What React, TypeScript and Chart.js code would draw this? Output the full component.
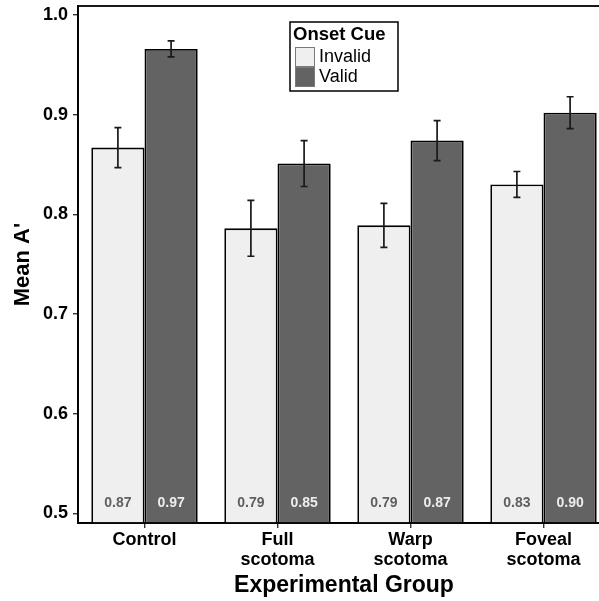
import React, { useEffect, useRef } from "react";
import { Chart, registerables } from "chart.js";

Chart.register(...registerables);

// Experimental groups (multi-line tick labels)
const groups: string[][] = [["Control"], ["Full", "scotoma"], ["Warp", "scotoma"], ["Foveal", "scotoma"]];

// Mean A' per onset cue
const invalidMeans = [0.867, 0.786, 0.789, 0.83];
const validMeans = [0.966, 0.851, 0.874, 0.902];

// Standard errors
const invalidErrors = [0.02, 0.028, 0.022, 0.013];
const validErrors = [0.008, 0.023, 0.02, 0.016];

// Y axis ticks and range
const yTickValues = [0.5, 0.6, 0.7, 0.8, 0.9, 1.0];
const yMin = 0.4905;
const yMax = 1.009;

const seriesNames = ["Invalid", "Valid"];
const fills = ["#efefef", "#636363"];
const labelColors = ["#5f5f5f", "#ededed"];
const errors = [invalidErrors, validErrors];

const FONT = "'Liberation Sans', Arial, Helvetica, sans-serif";

const errorBarsAndLabels = {
  id: "errorBarsAndLabels",
  afterDatasetsDraw(chart: any) {
    const { ctx, scales } = chart;
    const y = scales.y;
    ctx.save();
    chart.data.datasets.forEach((ds: any, di: number) => {
      const meta = chart.getDatasetMeta(di);
      meta.data.forEach((bar: any, i: number) => {
        const v = ds.data[i] as number;
        const e = errors[di][i];
        const top = y.getPixelForValue(v + e);
        const bot = y.getPixelForValue(v - e);
        const x = bar.x;
        ctx.strokeStyle = "#1a1a1a";
        ctx.lineWidth = 1.7;
        ctx.beginPath();
        ctx.moveTo(x, top);
        ctx.lineTo(x, bot);
        ctx.moveTo(x - 3.5, top);
        ctx.lineTo(x + 3.5, top);
        ctx.moveTo(x - 3.5, bot);
        ctx.lineTo(x + 3.5, bot);
        ctx.stroke();

        // value label near the bottom of each bar
        ctx.fillStyle = labelColors[di];
        ctx.font = `bold 14px ${FONT}`;
        ctx.textAlign = "center";
        ctx.textBaseline = "middle";
        ctx.fillText(v.toFixed(2), x, y.getPixelForValue(0.5) - 10);
      });
    });
    ctx.restore();
  },
  afterDraw(chart: any) {
    const { ctx, chartArea } = chart;
    ctx.save();
    // panel frame
    ctx.strokeStyle = "#000";
    ctx.lineWidth = 1.8;
    ctx.strokeRect(chartArea.left, chartArea.top, chartArea.right - chartArea.left, chartArea.bottom - chartArea.top);

    // legend box
    const lx = 290;
    const ly = 22;
    const lw = 108;
    const lh = 69;
    ctx.fillStyle = "#fff";
    ctx.fillRect(lx, ly, lw, lh);
    ctx.strokeStyle = "#000";
    ctx.lineWidth = 1.5;
    ctx.strokeRect(lx, ly, lw, lh);

    ctx.fillStyle = "#000";
    ctx.font = `bold 18.5px ${FONT}`;
    ctx.textAlign = "left";
    ctx.textBaseline = "alphabetic";
    ctx.fillText("Onset Cue", lx + 3, ly + 18);

    seriesNames.forEach((name, i) => {
      const sy = ly + 25 + i * 20;
      ctx.fillStyle = fills[i];
      ctx.fillRect(lx + 5, sy, 20, 20);
      ctx.strokeStyle = "#7a7a7a";
      ctx.lineWidth = 1;
      ctx.strokeRect(lx + 5.5, sy + 0.5, 19, 19);
      ctx.fillStyle = "#000";
      ctx.font = `18px ${FONT}`;
      ctx.textBaseline = "middle";
      ctx.fillText(name, lx + 29, sy + 10.5);
    });
    ctx.restore();
  },
};

export default function App() {
  const canvasRef = useRef<HTMLCanvasElement | null>(null);

  useEffect(() => {
    const canvas = canvasRef.current;
    if (!canvas) return;
    const chart = new Chart(canvas, {
      type: "bar",
      data: {
        labels: groups,
        datasets: [
          {
            label: seriesNames[0],
            data: invalidMeans,
            backgroundColor: fills[0],
            borderColor: "#000",
            borderWidth: 1.8,
          },
          {
            label: seriesNames[1],
            data: validMeans,
            backgroundColor: fills[1],
            borderColor: "#000",
            borderWidth: 1.8,
          },
        ],
      },
      options: {
        animation: false,
        responsive: false,
        devicePixelRatio: 1,
        layout: { padding: { left: 0, top: 6, right: 2, bottom: 0 } },
        datasets: {
          bar: { categoryPercentage: 0.8, barPercentage: 1.0 },
        },
        plugins: {
          legend: { display: false },
          tooltip: { enabled: false },
        },
        scales: {
          x: {
            type: "category",
            offset: true,
            grid: {
              display: true,
              offset: false,
              drawOnChartArea: false,
              tickLength: 5,
              color: "#333",
              lineWidth: 1.4,
            },
            border: { display: true, color: "#000", width: 1.8 },
            ticks: {
              color: "#000",
              padding: 2,
              font: { family: FONT, size: 18, weight: "bold", lineHeight: 1.1 },
              maxRotation: 0,
              autoSkip: false,
            },
            title: {
              display: true,
              text: "Experimental Group",
              color: "#000",
              font: { family: FONT, size: 23, weight: "bold", lineHeight: 1.2 },
              padding: { top: 0, bottom: 2 },
            },
            afterFit(scale: any) {
              scale.height = 78;
              scale.paddingLeft = 0;
              scale.paddingRight = 0;
            },
          },
          y: {
            type: "linear",
            min: yMin,
            max: yMax,
            grid: { display: true, drawOnChartArea: false, tickLength: 5, color: "#333", lineWidth: 1.4 },
            border: { display: true, color: "#000", width: 1.8 },
            afterBuildTicks(scale: any) {
              scale.ticks = yTickValues.map((v) => ({ value: v }));
            },
            ticks: {
              color: "#000",
              padding: 5,
              font: { family: FONT, size: 18, weight: "bold" },
              callback: (v: any) => Number(v).toFixed(1),
            },
            title: {
              display: true,
              text: "Mean A'",
              color: "#000",
              font: { family: FONT, size: 22, weight: "bold", lineHeight: 1.2 },
              padding: { top: 10, bottom: 0 },
            },
            afterFit(scale: any) {
              scale.width = 78;
              scale.paddingTop = 0;
              scale.paddingBottom = 0;
            },
          },
        },
      },
      plugins: [errorBarsAndLabels],
    });
    return () => chart.destroy();
  }, []);

  return (
    <div
      style={{
        position: "fixed",
        left: 0,
        top: 0,
        width: 599,
        height: 601,
        overflow: "hidden",
        background: "#fff",
      }}
    >
      <canvas ref={canvasRef} width={612} height={601} style={{ width: 612, height: 601, display: "block" }} />
    </div>
  );
}
